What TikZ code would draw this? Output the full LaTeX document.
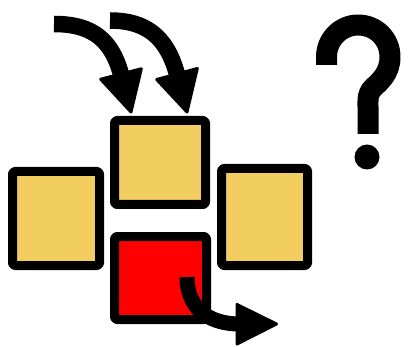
\documentclass[tikz,border=0pt]{standalone}
\begin{document}
\begin{tikzpicture}[x=1pt,y=-1pt,
  box/.style={draw=black, line width=9pt, rounded corners=2.5pt, inner sep=0pt, line join=round},
  yel/.style={fill=boxyellow},
  shaft/.style={draw=black, line width=16.5pt, line cap=butt},
  redshaft/.style={draw=black, line width=15pt, line cap=butt},
  head/.style={fill=black, draw=black, line width=3pt, line join=round},
  qmark/.style={draw=black, line width=21pt, line cap=butt}]
\definecolor{boxyellow}{RGB}{242,205,96}
\useasboundingbox (0,0) rectangle (417,347);
% boxes
\node[box, yel, minimum width=91pt, minimum height=84pt] (top) at (160,162.5) {};
\node[box, yel, minimum width=87pt, minimum height=94pt] (left) at (56,218.5) {};
\node[box, yel, minimum width=86pt, minimum height=97pt] (right) at (264.5,217) {};
\node[box, fill=red, minimum width=92pt, minimum height=83pt] (bottom) at (160.5,278) {};
% top arrow 1
\coordinate (s1) at (54,24);
\coordinate (b1) at (122,78);
\draw[shaft] (s1) .. controls (95,24) and (113,42) .. (b1);
\fill[head] (141.3,68.8) -- (131,112) -- (100.7,79.2) -- cycle;
% top arrow 2
\coordinate (s2) at (110,20.5);
\coordinate (b2) at (178,78);
\draw[shaft] (s2) .. controls (151,20.5) and (169,42) .. (b2);
\fill[head] (197.3,68.5) -- (187,112) -- (156.7,79.5) -- cycle;
% red arrow
\coordinate (s3) at (187,277);
\coordinate (b3) at (240,324);
\draw[redshaft] (s3) .. controls (187,305) and (205,324) .. (b3);
\fill[head] (237,304.5) -- (276.5,324) -- (237,344) -- cycle;
% question mark
\draw[qmark, line join=round] (326.5,65) -- (326.5,57) .. controls (326.5,39) and (341,25) .. (358,25)
  .. controls (376,25) and (390,39) .. (390,57)
  .. controls (390,74) and (379,82) .. (373,88)
  .. controls (367,94) and (368,100) .. (368,107) -- (368,134);
\fill[black] (367,157) circle (12.5);
\end{tikzpicture}
\end{document}
